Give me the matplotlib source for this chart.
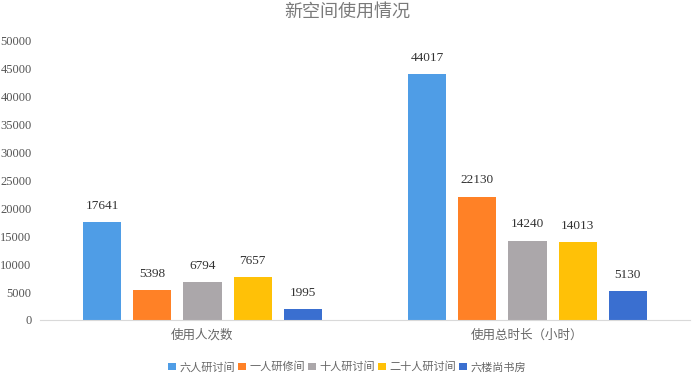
import matplotlib
matplotlib.use("Agg")
import matplotlib.pyplot as plt
import numpy as np

categories = ["使用人次数", "使用总时长（小时）"]
series_names = ["六人研讨间", "一人研修间", "十人研讨间", "二十人研讨间", "六楼尚书房"]
values = [
    [17641, 44017],
    [5398, 22130],
    [6794, 14240],
    [7657, 14013],
    [1995, 5130],
]
colors = ["#4f9de6", "#ff8126", "#aba7aa", "#ffc107", "#3a6fd0"]
yticks = list(range(0, 50001, 5000))

cjk = ["Noto Sans CJK SC", "DejaVu Sans"]
serif = ["Liberation Serif", "DejaVu Serif"]

fig = plt.figure(figsize=(6.94, 3.82), dpi=100)
ax = fig.add_axes([40/694, 1 - 320/382, 650/694, (320 - 41)/382])

x = np.arange(len(categories))
width = 0.117
step = 0.154
n = len(series_names)
for i, (name, vals, c) in enumerate(zip(series_names, values, colors)):
    pos = x + (i - (n - 1) / 2) * step
    bars = ax.bar(pos, vals, width=width, color=c, label=name)
    for b, v in zip(bars, vals):
        ax.text(b.get_x() + b.get_width() / 2, v + 1800, str(v), ha="center", va="bottom",
                fontsize=9.5, family=serif, color="#333333")

ax.set_xlim(-0.5, 1.5)
ax.set_ylim(0, 50000)
ax.set_yticks(yticks)
ax.set_yticklabels([str(t) for t in yticks], family=serif, fontsize=9, color="#555555")
ax.set_xticks(x)
ax.set_xticklabels(categories, family=cjk, fontsize=9, color="#666666")
ax.tick_params(axis="both", length=0, pad=6)
for s in ["top", "right", "left"]:
    ax.spines[s].set_visible(False)
ax.spines["bottom"].set_color("#d9d9d9")

fig.text(0.5, 1 - 12/382, "新空间使用情况", ha="center", va="center", fontsize=13,
         family=cjk, color="#7a7a7a")

handles, labels = ax.get_legend_handles_labels()
leg = fig.legend(handles, labels, loc="center", bbox_to_anchor=(0.5, 1 - 367/382), ncol=5,
                 frameon=False, prop={"family": cjk, "size": 8}, handlelength=0.7,
                 handleheight=0.7, handletextpad=0.3, columnspacing=0.3)
for t in leg.get_texts():
    t.set_color("#666666")

fig.savefig("out.png", dpi=100)
